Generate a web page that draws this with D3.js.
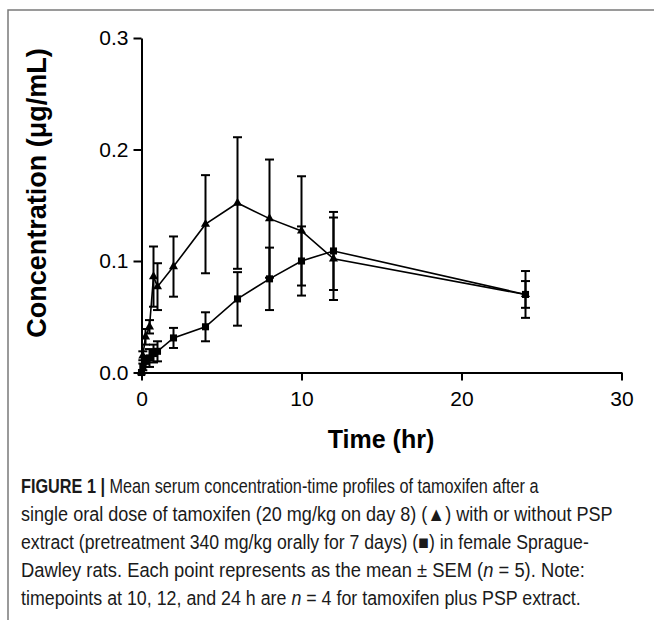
<!DOCTYPE html>
<html>
<head>
<meta charset="utf-8">
<script src="https://cdnjs.cloudflare.com/ajax/libs/d3/7.8.5/d3.min.js"></script>
<style>
	html, body { margin: 0; padding: 0; background: #fff; }
	svg { display: block; }
</style>
</head>
<body>
<div id="drawArea"></div>
<script>
// data
var times = [0, 0.083, 0.25, 0.5, 0.75, 1, 2, 4, 6, 8, 10, 12, 24];
var tamoxifenMean = [0, 0.015, 0.032, 0.041, 0.086, 0.077, 0.095, 0.133, 0.152, 0.138, 0.127, 0.102, 0.070];
var tamoxifenSem = [0, 0.004, 0.007, 0.006, 0.027, 0.021, 0.027, 0.044, 0.059, 0.053, 0.049, 0.037, 0.021];
var pspMean = [0, 0.005, 0.010, 0.013, 0.017, 0.019, 0.031, 0.041, 0.066, 0.084, 0.100, 0.109, 0.070];
var pspSem = [0, 0.003, 0.005, 0.008, 0.008, 0.009, 0.009, 0.013, 0.024, 0.028, 0.031, 0.035, 0.012];
var xTicks = [0, 10, 20, 30];
var yTicks = [0, 0.1, 0.2, 0.3];
var captionLines = [
	"single oral dose of tamoxifen (20 mg/kg on day 8) (\u25B2) with or without PSP",
	"extract (pretreatment 340 mg/kg orally for 7 days) (\u25A0) in female Sprague-",
	"Dawley rats. Each point represents as the mean \u00B1 SEM (",
	"timepoints at 10, 12, and 24 h are "
];
// widths of the caption lines in the figure (condensed face there)
var captionWidths = [518, 592, 568, 564, 560];

var svg_width = 654;
var svg_height = 620;
var font = "Arial, 'Liberation Sans', Helvetica, sans-serif";

var svg = d3.select("#drawArea").append("svg")
	.attr("width", svg_width)
	.attr("height", svg_height);

// grey frame, top and left only
svg.append("path")
	.attr("d", "M8,620 L8,10 L654,10")
	.attr("fill", "none")
	.attr("stroke", "#7a7a7a")
	.attr("stroke-width", 1.5);

var x = d3.scaleLinear().domain([0, 30]).range([141.5, 621.5]);
var y = d3.scaleLinear().domain([0, 0.3]).range([372.5, 38]);

// axes
var xAxis = svg.append("g")
	.attr("transform", "translate(0," + y(0) + ")")
	.call(d3.axisBottom(x).tickValues(xTicks).tickSize(8).tickPadding(7).tickSizeOuter(0));
var yAxis = svg.append("g")
	.attr("transform", "translate(" + x(0) + ",0)")
	.call(d3.axisLeft(y).tickValues(yTicks).tickSize(8).tickPadding(5).tickSizeOuter(0)
		.tickFormat(d3.format(".1f")));

[xAxis, yAxis].forEach(function(g){
	g.select(".domain").attr("stroke", "#000").attr("stroke-width", 2);
	g.selectAll(".tick line").attr("stroke", "#000").attr("stroke-width", 2);
	g.selectAll(".tick text")
		.attr("fill", "#000")
		.attr("font-family", font)
		.attr("font-size", 21);
});
xAxis.selectAll(".tick text").attr("dy", "0.9em");

// axis titles
svg.append("text")
	.attr("x", 381)
	.attr("y", 448)
	.attr("text-anchor", "middle")
	.attr("font-family", font)
	.attr("font-weight", "bold")
	.attr("font-size", 25)
	.text("Time (hr)");

svg.append("text")
	.attr("transform", "translate(46,193) rotate(-90)")
	.attr("text-anchor", "middle")
	.attr("font-family", font)
	.attr("font-weight", "bold")
	.attr("font-size", 27)
	.text("Concentration (\u03BCg/mL)");

// series
var series = [
	{ mean: pspMean, sem: pspSem, symbol: d3.symbolSquare, size: 50 },
	{ mean: tamoxifenMean, sem: tamoxifenSem, symbol: d3.symbolTriangle, size: 36 }
];

var line = d3.line()
	.x(function(d){ return x(d.t); })
	.y(function(d){ return y(d.c); });

series.forEach(function(s){
	var pts = times.map(function(t, i){ return { t: t, c: s.mean[i], e: s.sem[i] }; });
	var g = svg.append("g");

	g.append("path")
		.datum(pts)
		.attr("d", line)
		.attr("fill", "none")
		.attr("stroke", "#000")
		.attr("stroke-width", 1.6);

	var bars = g.selectAll(".err").data(pts.filter(function(d){ return d.e > 0; }))
		.enter().append("g").attr("class", "err");
	bars.append("line")
		.attr("x1", function(d){ return x(d.t); })
		.attr("x2", function(d){ return x(d.t); })
		.attr("y1", function(d){ return y(d.c - d.e); })
		.attr("y2", function(d){ return y(d.c + d.e); });
	bars.append("line")
		.attr("x1", function(d){ return x(d.t) - 4.5; })
		.attr("x2", function(d){ return x(d.t) + 4.5; })
		.attr("y1", function(d){ return y(d.c + d.e); })
		.attr("y2", function(d){ return y(d.c + d.e); });
	bars.append("line")
		.attr("x1", function(d){ return x(d.t) - 4.5; })
		.attr("x2", function(d){ return x(d.t) + 4.5; })
		.attr("y1", function(d){ return y(d.c - d.e); })
		.attr("y2", function(d){ return y(d.c - d.e); });
	bars.selectAll("line").attr("stroke", "#000").attr("stroke-width", 2);

	g.selectAll(".pt").data(pts)
		.enter().append("path")
		.attr("class", "pt")
		.attr("transform", function(d){ return "translate(" + x(d.t) + "," + y(d.c) + ")"; })
		.attr("d", d3.symbol().type(s.symbol).size(s.size))
		.attr("fill", "#000");
});

// caption - squeezed sideways to look like the condensed face of the figure
var cap = svg.append("g")
	.attr("font-family", font)
	.attr("font-size", 19.5)
	.attr("fill", "#1a1a1a");

function captionLine(i){
	return cap.append("text")
		.attr("x", 0)
		.attr("y", 0)
		.attr("data-line", i);
}

var l1 = captionLine(0);
l1.append("tspan").attr("font-weight", "bold").text("FIGURE 1 | ");
l1.append("tspan").text("Mean serum concentration-time profiles of tamoxifen after a");

var l2 = captionLine(1).text(captionLines[0]);
var l3 = captionLine(2).text(captionLines[1]);

var l4 = captionLine(3);
l4.append("tspan").text(captionLines[2]);
l4.append("tspan").attr("font-style", "italic").text("n");
l4.append("tspan").text(" = 5). Note:");

var l5 = captionLine(4);
l5.append("tspan").text(captionLines[3]);
l5.append("tspan").attr("font-style", "italic").text("n");
l5.append("tspan").text(" = 4 for tamoxifen plus PSP extract.");

[l1, l2, l3, l4, l5].forEach(function(t, i){
	var w = t.node().getComputedTextLength();
	var sx = captionWidths[i] / w;
	t.attr("transform", "translate(21," + (493 + i * 28) + ") scale(" + sx + ",1)");
});
</script>
</body>
</html>
